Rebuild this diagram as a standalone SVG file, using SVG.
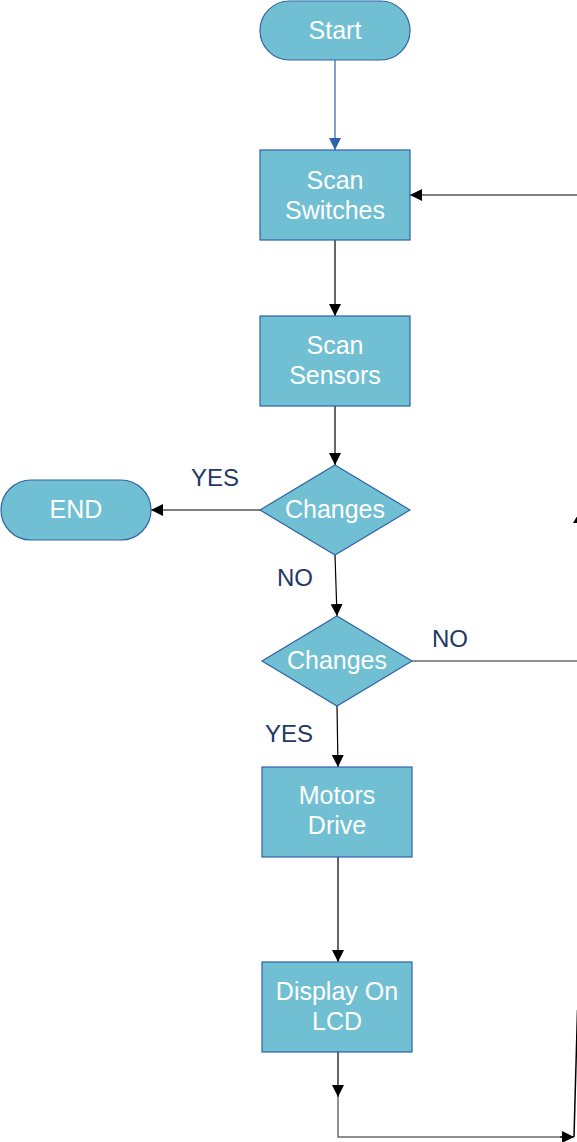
<svg xmlns="http://www.w3.org/2000/svg" width="577" height="1142" viewBox="0 0 577 1142">
<defs>
<style>
.node{fill:#71bfd3;stroke:#2f62a8;stroke-width:1.2}
.t{font-family:"Liberation Sans",Arial,sans-serif;font-size:25px;fill:#ffffff;text-anchor:middle}
.lbl{font-family:"Liberation Sans",Arial,sans-serif;font-size:24px;fill:#1f3864;text-anchor:middle}
.c{fill:none;stroke:#000;stroke-width:1.2}
.g{fill:none;stroke:#6b6b6b;stroke-width:1.5}
</style>
<marker id="ah" viewBox="0 0 10 10" refX="10" refY="5" markerWidth="12" markerHeight="12" markerUnits="userSpaceOnUse" orient="auto"><path d="M0,0 L10,5 L0,10 z" fill="#000"/></marker>
<marker id="ahb" viewBox="0 0 10 10" refX="10" refY="5" markerWidth="12" markerHeight="12" markerUnits="userSpaceOnUse" orient="auto"><path d="M0,0 L10,5 L0,10 z" fill="#2f62a8"/></marker>
</defs>
<rect width="577" height="1142" fill="#fff"/>
<g id="connectors">
<line x1="335" y1="60" x2="335" y2="150" stroke="#2f62a8" stroke-width="1.2" marker-end="url(#ahb)"/>
<line class="c" x1="577" y1="195" x2="410" y2="195" marker-end="url(#ah)"/>
<line class="c" x1="335" y1="240" x2="335" y2="316" marker-end="url(#ah)"/>
<line class="c" x1="335" y1="406" x2="335" y2="465" marker-end="url(#ah)"/>
<line class="c" x1="260" y1="510" x2="151" y2="510" marker-end="url(#ah)"/>
<line class="c" x1="335" y1="555" x2="337" y2="616" marker-end="url(#ah)"/>
<line class="g" x1="412" y1="661" x2="577" y2="661"/>
<line class="c" x1="337" y1="706" x2="338" y2="767" marker-end="url(#ah)"/>
<line class="c" x1="338" y1="857" x2="338" y2="962" marker-end="url(#ah)"/>
<line class="c" x1="338" y1="1052" x2="338" y2="1097" marker-end="url(#ah)"/>
<polyline class="g" points="338,1097 338,1137 562,1137"/>
<line class="c" x1="560" y1="1137" x2="574" y2="1137" marker-end="url(#ah)"/>
<line x1="574" y1="1137" x2="577.5" y2="1010" stroke="#000" stroke-width="1.5"/>
<path d="M580,511 L586,523 L573,523 z" fill="#000"/>
</g>
<g id="start"><rect class="node" x="260" y="1" width="150" height="59" rx="29.5"/><text class="t" x="335" y="39">Start</text></g>
<g id="scan-switches"><rect class="node" x="260" y="150" width="150" height="90"/><text class="t" x="335" y="189">Scan</text><text class="t" x="335" y="219">Switches</text></g>
<g id="scan-sensors"><rect class="node" x="260" y="316" width="150" height="90"/><text class="t" x="335" y="354">Scan</text><text class="t" x="335" y="384">Sensors</text></g>
<g id="changes1"><polygon class="node" points="335,465 410,510 335,555 260,510"/><text class="t" x="335" y="518">Changes</text></g>
<g id="end"><rect class="node" x="1" y="480" width="150" height="60" rx="30"/><text class="t" x="76" y="518">END</text></g>
<g id="changes2"><polygon class="node" points="337,616 412,661 337,706 262,661"/><text class="t" x="337" y="669">Changes</text></g>
<g id="motors"><rect class="node" x="262" y="767" width="150" height="90"/><text class="t" x="337" y="804">Motors</text><text class="t" x="337" y="834">Drive</text></g>
<g id="display"><rect class="node" x="262" y="962" width="150" height="90"/><text class="t" x="337" y="1000">Display On</text><text class="t" x="337" y="1030">LCD</text></g>
<g id="labels">
<text class="lbl" x="215" y="486">YES</text>
<text class="lbl" x="295" y="586">NO</text>
<text class="lbl" x="450" y="647">NO</text>
<text class="lbl" x="289" y="742">YES</text>
</g>
</svg>
